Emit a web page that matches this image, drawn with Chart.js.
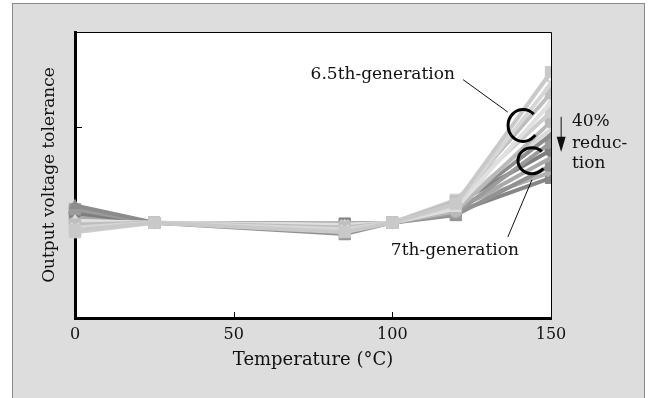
<!DOCTYPE html>
<html>
<head>
<meta charset="utf-8">
<script src="https://cdn.jsdelivr.net/npm/chart.js@4.4.1/dist/chart.umd.min.js"></script>
<style>
  html, body { margin: 0; padding: 0; background: #fff; }
  #wrap { width: 653px; height: 398px; position: relative; }
</style>
</head>
<body>
<div id="wrap"><canvas id="c" width="653" height="398"></canvas></div>
<script>
// temperatures (°C)
const temps = [0, 25, 85, 100, 120, 150];
const xTickLabels = [0, 50, 100, 150];

// 6.5th-generation (lighter greys)
const gen65a = [0.92, 1.00, 0.90, 1.00, 1.20, 2.58];
const gen65b = [0.95, 1.00, 0.93, 1.00, 1.18, 2.46];
const gen65c = [0.98, 1.00, 0.95, 1.00, 1.22, 2.36];
const gen65d = [1.02, 1.00, 0.97, 1.00, 1.15, 2.26];
const gen65e = [0.90, 1.00, 0.92, 1.00, 1.24, 2.16];
const gen65f = [1.00, 1.00, 0.96, 1.00, 1.12, 2.06];
const gen65g = [0.94, 1.00, 0.98, 1.00, 1.19, 1.98];

// 7th-generation (darker greys)
const gen7a = [1.18, 1.00, 0.94, 1.00, 1.16, 1.92];
const gen7b = [1.14, 1.00, 0.96, 1.00, 1.10, 1.84];
const gen7c = [1.10, 1.00, 0.92, 1.00, 1.20, 1.76];
const gen7d = [1.06, 1.00, 0.97, 1.00, 1.13, 1.68];
const gen7e = [1.12, 1.00, 0.88, 1.00, 1.08, 1.60];
const gen7f = [1.03, 1.00, 0.95, 1.00, 1.17, 1.53];
const gen7g = [1.08, 1.00, 0.99, 1.00, 1.11, 1.47];

const FONT = '"DejaVu Serif", serif';
const styles = ['rect', 'crossRot', 'rect', 'triangle', 'rect', 'circle', 'crossRot'];
const lightGreys = ['#c9c9c9', '#d6d6d6', '#bebebe', '#e0e0e0', '#cdcdcd', '#b9b9b9', '#d9d9d9'];
const darkGreys  = ['#8c8c8c', '#9b9b9b', '#7e7e7e', '#a9a9a9', '#919191', '#b0b0b0', '#868686'];

const mk = (vals, color, ps) => ({
  data: temps.map((t, i) => ({ x: t, y: vals[i] })),
  borderColor: color, backgroundColor: color,
  pointBorderColor: color, pointBackgroundColor: color,
  borderWidth: 4, pointStyle: ps, pointRadius: ps === 'rect' ? 8 : 6, pointBorderWidth: ps === 'crossRot' ? 3 : 1,
  tension: 0, clip: { left: 12, top: 0, right: 0, bottom: 0 }
});

const datasets = [
  ...[gen65a, gen65b, gen65c, gen65d, gen65e, gen65f, gen65g].map((v, i) => mk(v, lightGreys[i], styles[i])),
  ...[gen7a, gen7b, gen7c, gen7d, gen7e, gen7f, gen7g].map((v, i) => mk(v, darkGreys[i], styles[(i + 3) % 7]))
];

const frame = {
  id: 'frame',
  beforeDraw(chart) {
    const { ctx, chartArea: a } = chart;
    ctx.save();
    ctx.fillStyle = '#dcdddc';
    ctx.fillRect(12, 3, 633, 400);
    ctx.strokeStyle = '#8a8a8a'; ctx.lineWidth = 1;
    ctx.strokeRect(12.5, 3.5, 632, 400);
    ctx.fillStyle = '#fff';
    ctx.fillRect(a.left, a.top, a.right - a.left, a.bottom - a.top);
    ctx.restore();
  },
  afterDatasetsDraw(chart) {
    const { ctx, chartArea: a, scales: { x, y } } = chart;
    ctx.save();
    // thin top and right borders
    ctx.strokeStyle = '#000'; ctx.lineWidth = 1;
    ctx.beginPath();
    ctx.moveTo(a.left, a.top + 0.5); ctx.lineTo(a.right + 0.5, a.top + 0.5); ctx.lineTo(a.right + 0.5, a.bottom);
    ctx.stroke();
    // inward ticks
    ctx.beginPath();
    [50, 100].forEach(v => { const px = Math.round(x.getPixelForValue(v)) + 0.5; ctx.moveTo(px, a.bottom); ctx.lineTo(px, a.bottom - 6); });
    const py = Math.round(y.getPixelForValue(2)) + 0.5;
    ctx.moveTo(a.left, py); ctx.lineTo(a.left + 7, py);
    ctx.stroke();

    // annotations
    const X = v => x.getPixelForValue(v), Y = v => y.getPixelForValue(v);
    ctx.fillStyle = '#111'; ctx.font = '17px ' + FONT; ctx.textBaseline = 'middle';
    ctx.textAlign = 'right'; ctx.fillText('6.5th-generation', X(119.7), Y(2.55));
    ctx.textAlign = 'center'; ctx.fillText('7th-generation', X(119.7), Y(0.71));
    ctx.textAlign = 'left';
    ctx.fillText('40%', X(156.6), Y(2.06));
    ctx.fillText('reduc-', X(156.6), Y(1.83));
    ctx.fillText('tion', X(156.6), Y(1.62));

    ctx.strokeStyle = '#111'; ctx.lineWidth = 1;
    ctx.beginPath();
    ctx.moveTo(X(122.3), Y(2.50)); ctx.lineTo(X(136.4), Y(2.16));
    ctx.moveTo(X(136.4), Y(0.85)); ctx.lineTo(X(144.0), Y(1.45));
    ctx.moveTo(X(153.2), Y(2.11)); ctx.lineTo(X(153.2), Y(1.85));
    ctx.stroke();
    ctx.beginPath();
    ctx.moveTo(X(153.2), Y(1.74)); ctx.lineTo(X(153.2) - 4.5, Y(1.90)); ctx.lineTo(X(153.2) + 4.5, Y(1.90)); ctx.closePath();
    ctx.fill();

    ctx.strokeStyle = '#000'; ctx.lineWidth = 3;
    ctx.beginPath();
    ctx.ellipse(X(141.2), Y(2.02), 15, 16, 0, -Math.PI / 4, Math.PI / 5, true);
    ctx.stroke();
    ctx.beginPath();
    ctx.ellipse(X(144.0), Y(1.65), 14, 13, 0, -Math.PI / 4, Math.PI / 5, true);
    ctx.stroke();
    ctx.restore();
  }
};

new Chart(document.getElementById('c'), {
  type: 'line',
  data: { datasets },
  options: {
    responsive: false, animation: false,
    layout: { padding: { left: 36, top: 32, right: 102, bottom: 0 } },
    plugins: { legend: { display: false }, tooltip: { enabled: false } },
    scales: {
      x: {
        type: 'linear', min: 0, max: 150,
        afterBuildTicks: s => { s.ticks = xTickLabels.map(v => ({ value: v })); },
        afterFit: s => { s.height = 80; },
        grid: { display: false, drawTicks: false },
        border: { display: true, color: '#000', width: 3 },
        ticks: { color: '#111', font: { family: FONT, size: 16 }, padding: 7, maxRotation: 0 },
        title: { display: true, text: 'Temperature (°C)', color: '#111', font: { family: FONT, size: 18 }, padding: { top: 4, bottom: 27 } }
      },
      y: {
        min: 0, max: 3,
        afterFit: s => { s.width = 39; },
        grid: { display: false, drawTicks: false },
        border: { display: true, color: '#000', width: 3 },
        ticks: { display: false },
        title: { display: true, text: 'Output voltage tolerance', color: '#111', font: { family: FONT, size: 17 }, padding: { top: 3, bottom: 0 } }
      }
    }
  },
  plugins: [frame]
});
</script>
</body>
</html>
